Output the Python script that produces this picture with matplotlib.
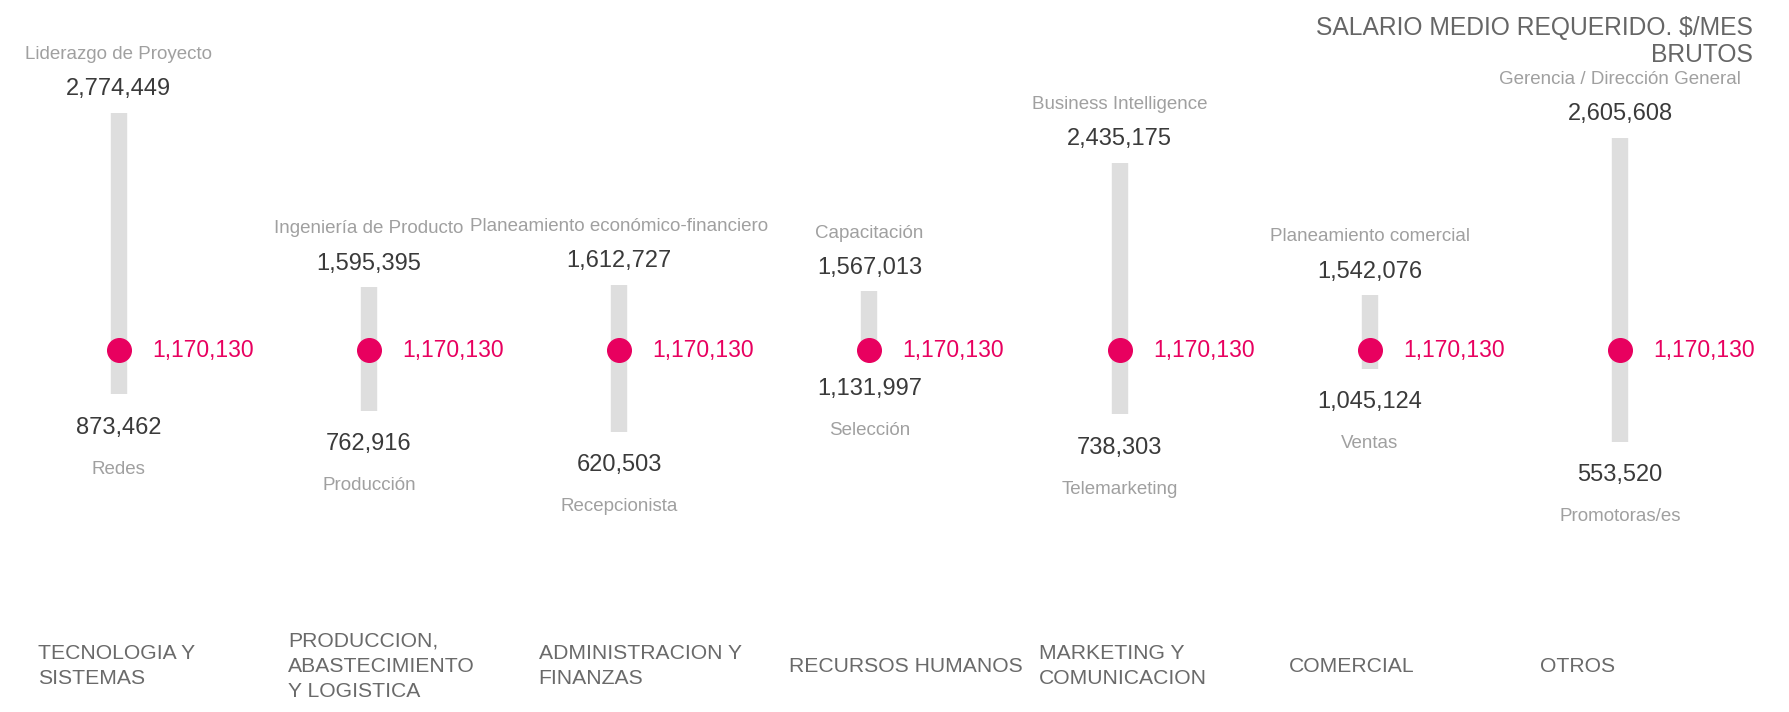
import matplotlib
matplotlib.use("Agg")
import matplotlib.pyplot as plt

plt.rcParams['font.family'] = ['Liberation Sans', 'DejaVu Sans']

# Datos por área
categorias = ['TECNOLOGIA Y\nSISTEMAS', 'PRODUCCION,\nABASTECIMIENTO\nY LOGISTICA',
              'ADMINISTRACION Y\nFINANZAS', 'RECURSOS HUMANOS', 'MARKETING Y\nCOMUNICACION',
              'COMERCIAL', 'OTROS']
puestos_max = ['Liderazgo de Proyecto', 'Ingeniería de Producto', 'Planeamiento económico-financiero',
               'Capacitación', 'Business Intelligence', 'Planeamiento comercial',
               'Gerencia / Dirección General']
salario_max = [2774449, 1595395, 1612727, 1567013, 2435175, 1542076, 2605608]
puestos_min = ['Redes', 'Producción', 'Recepcionista', 'Selección', 'Telemarketing', 'Ventas',
               'Promotoras/es']
salario_min = [873462, 762916, 620503, 1131997, 738303, 1045124, 553520]
salario_medio = 1170130

GRIS_BARRA = '#dedede'
ROSA = '#e8005f'
GRIS_VALOR = '#3a3a3a'
GRIS_PUESTO = '#a0a0a0'
GRIS_CAT = '#6a6a6a'

fig = plt.figure(figsize=(17.89, 7.12), dpi=100)
ax = fig.add_axes([0, 0, 1, 1])
ax.set_xlim(-0.474, 6.675)
ax.set_ylim(-1.272e6, 3.535e6)
ax.axis('off')

xs = list(range(len(categorias)))

# Rango min-max por área
ax.vlines(xs, salario_min, salario_max, color=GRIS_BARRA, linewidth=11.8, zorder=1)
# Salario medio
ax.plot(xs, [salario_medio] * len(xs), 'o', color=ROSA, markersize=17, zorder=2)

for i in xs:
    ax.annotate(f'{salario_max[i]:,}', (i, salario_max[i]), xytext=(0, 17),
                textcoords='offset points', ha='center', va='center',
                fontsize=17, color=GRIS_VALOR)
    ax.annotate(puestos_max[i], (i, salario_max[i]), xytext=(0, 42),
                textcoords='offset points', ha='center', va='center',
                fontsize=13.5, color=GRIS_PUESTO)
    ax.annotate(f'{salario_min[i]:,}', (i, salario_min[i]), xytext=(0, -24),
                textcoords='offset points', ha='center', va='center',
                fontsize=17, color=GRIS_VALOR)
    ax.annotate(puestos_min[i], (i, salario_min[i]), xytext=(0, -54),
                textcoords='offset points', ha='center', va='center',
                fontsize=13.5, color=GRIS_PUESTO)
    ax.annotate(f'{salario_medio:,}', (i, salario_medio), xytext=(24, 0),
                textcoords='offset points', ha='left', va='center',
                fontsize=16.5, color=ROSA)
    # Nombre del área abajo
    ax.annotate(categorias[i], (i, 0), xycoords=('data', 'figure fraction'),
                xytext=(-58, 33), textcoords='offset points', ha='left', va='center',
                multialignment='left', fontsize=15.2, color=GRIS_CAT, linespacing=1.4)

fig.text(0.98, 0.978, 'SALARIO MEDIO REQUERIDO. $/MES\nBRUTOS', ha='right', va='top',
         fontsize=17.7, color='#666666', linespacing=1.2)

fig.savefig('out.png', dpi=100)
